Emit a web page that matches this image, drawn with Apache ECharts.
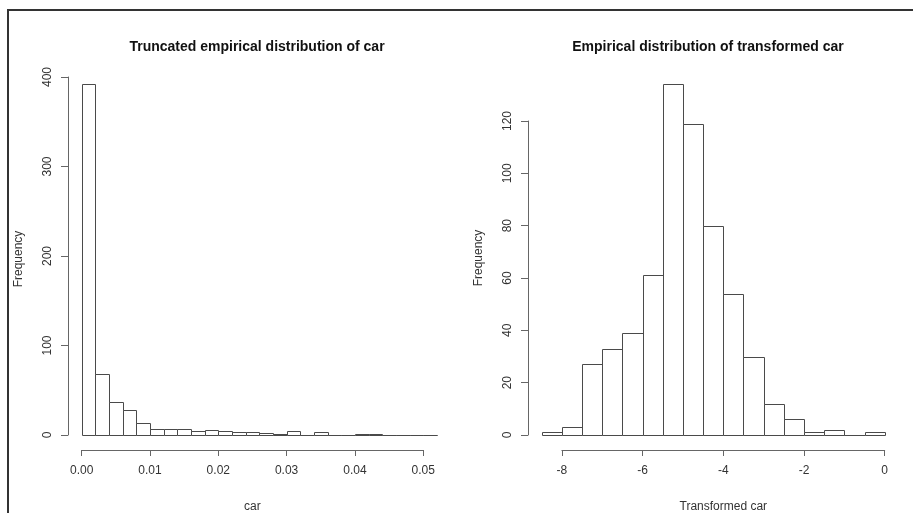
<!DOCTYPE html>
<html>
<head>
<meta charset="utf-8">
<script src="https://cdn.jsdelivr.net/npm/echarts@6/dist/echarts.min.js"></script>
<style>html,body{margin:0;padding:0;background:#fff}#c{width:913px;height:513px}</style>
</head>
<body>
<div id="c"></div>
<script>
// Left histogram: truncated empirical distribution of car
const leftTitle = 'Truncated empirical distribution of car';
const leftBreaks = [0, 0.002, 0.004, 0.006, 0.008, 0.010, 0.012, 0.014, 0.016, 0.018, 0.020, 0.022, 0.024,
  0.026, 0.028, 0.030, 0.032, 0.034, 0.036, 0.038, 0.040, 0.042, 0.044, 0.046, 0.048, 0.050, 0.052];
const leftCounts = [392, 68, 37, 28, 13, 7, 7, 7, 4, 6, 4, 3, 3, 2, 1, 4, 0, 3, 0, 0, 1, 1, 0, 0, 0, 0];
const leftXTicks = [0, 0.01, 0.02, 0.03, 0.04, 0.05];
const leftYTicks = [0, 100, 200, 300, 400];

// Right histogram: empirical distribution of transformed car
const rightTitle = 'Empirical distribution of transformed car';
const rightBreaks = [-8.5, -8, -7.5, -7, -6.5, -6, -5.5, -5, -4.5, -4, -3.5, -3, -2.5, -2, -1.5, -1, -0.5, 0];
const rightCounts = [1, 3, 27, 33, 39, 61, 134, 119, 80, 54, 30, 12, 6, 1, 2, 0, 1];
const rightXTicks = [-8, -6, -4, -2, 0];
const rightYTicks = [0, 20, 40, 60, 80, 100, 120];

function histData(breaks, counts) {
  return counts.map((c, i) => [breaks[i], breaks[i + 1], c]);
}

const FONT = 'Liberation Sans, Arial, Helvetica, sans-serif';
const LINE = '#4a4a4a';
const AXIS = '#666';
const TEXT = '#333';

function renderBar(params, api) {
  const p0 = api.coord([api.value(0), api.value(2)]);
  const p1 = api.coord([api.value(1), 0]);
  const x0 = Math.round(p0[0]) + 0.5, x1 = Math.round(p1[0]) + 0.5;
  const y0 = Math.round(p0[1]) + 0.5, y1 = Math.round(p1[1]) + 0.5;
  return {
    type: 'rect',
    shape: { x: x0, y: y0, width: x1 - x0, height: y1 - y0 },
    style: { fill: '#fff', stroke: LINE, lineWidth: 1 }
  };
}

const chart = echarts.init(document.getElementById('c'), null, { renderer: 'canvas' });

const yAxisCommon = {
  type: 'value',
  position: 'left',
  offset: 13.7,
  splitLine: { show: false },
  axisLine: { show: true, onZero: false, lineStyle: { color: AXIS, width: 1 } },
  axisTick: { show: true, length: 7, lineStyle: { color: AXIS } },
  axisLabel: { rotate: 90, margin: 14, color: TEXT, fontSize: 12, fontFamily: FONT },
  nameLocation: 'middle',
  nameGap: 43,
  nameTextStyle: { color: TEXT, fontSize: 12, fontFamily: FONT }
};
const xAxisCommon = {
  type: 'value',
  position: 'bottom',
  offset: 15,
  splitLine: { show: false },
  axisLine: { show: true, onZero: false, lineStyle: { color: AXIS, width: 1 } },
  axisTick: { show: true, length: 6, lineStyle: { color: AXIS } },
  axisLabel: { margin: 15, color: TEXT, fontSize: 12, fontFamily: FONT },
  nameLocation: 'middle',
  nameGap: 51,
  nameTextStyle: { color: TEXT, fontSize: 12, fontFamily: FONT }
};

const gridCommon = { outerBoundsMode: 'none', containLabel: false };

chart.setOption({
  animation: false,
  backgroundColor: '#fff',
  title: [
    { text: leftTitle, left: 252, top: 35, textAlign: 'center',
      textStyle: { fontSize: 14, fontWeight: 'bold', color: '#111', fontFamily: FONT } },
    { text: rightTitle, left: 703, top: 35, textAlign: 'center',
      textStyle: { fontSize: 14, fontWeight: 'bold', color: '#111', fontFamily: FONT } }
  ],
  grid: [
    Object.assign({ left: 81.7, top: 77, width: 355.2, height: 358 }, gridCommon),
    Object.assign({ left: 81.7, top: 77, width: 341.5, height: 358 }, gridCommon),
    Object.assign({ left: 541.7, top: 121, width: 343, height: 314 }, gridCommon),
    Object.assign({ left: 561.9, top: 121, width: 322.8, height: 314 }, gridCommon)
  ],
  xAxis: [
    { type: 'value', gridIndex: 0, min: leftBreaks[0], max: leftBreaks[leftBreaks.length - 1], show: false },
    Object.assign({}, xAxisCommon, { gridIndex: 1, min: leftXTicks[0], max: leftXTicks[leftXTicks.length - 1],
      interval: 0.01, name: 'car',
      axisLabel: Object.assign({}, xAxisCommon.axisLabel, { formatter: v => v.toFixed(2) }) }),
    { type: 'value', gridIndex: 2, min: rightBreaks[0], max: rightBreaks[rightBreaks.length - 1], show: false },
    Object.assign({}, xAxisCommon, { gridIndex: 3, min: rightXTicks[0], max: rightXTicks[rightXTicks.length - 1],
      interval: 2, name: 'Transformed car' })
  ],
  yAxis: [
    Object.assign({}, yAxisCommon, { gridIndex: 0, min: leftYTicks[0], max: leftYTicks[leftYTicks.length - 1],
      interval: 100, name: 'Frequency',
      nameTextStyle: Object.assign({}, yAxisCommon.nameTextStyle, { padding: [0, 6, 0, 0] }) }),
    { type: 'value', gridIndex: 1, min: 0, max: 1, show: false },
    Object.assign({}, yAxisCommon, { gridIndex: 2, min: rightYTicks[0], max: rightYTicks[rightYTicks.length - 1],
      interval: 20, name: 'Frequency',
      nameTextStyle: Object.assign({}, yAxisCommon.nameTextStyle, { padding: [0, 0, 0, 40] }) }),
    { type: 'value', gridIndex: 3, min: 0, max: 1, show: false }
  ],
  series: [
    { type: 'custom', name: 'car', xAxisIndex: 0, yAxisIndex: 0, clip: false,
      renderItem: renderBar, encode: { x: [0, 1], y: 2 }, data: histData(leftBreaks, leftCounts) },
    { type: 'custom', name: 'transformed car', xAxisIndex: 2, yAxisIndex: 2, clip: false,
      renderItem: renderBar, encode: { x: [0, 1], y: 2 }, data: histData(rightBreaks, rightCounts) }
  ],
  graphic: [
    { type: 'rect', silent: true, z: 100,
      shape: { x: 8, y: 10, width: 930, height: 530 },
      style: { fill: 'none', stroke: '#333', lineWidth: 2 } }
  ]
});
</script>
</body>
</html>
